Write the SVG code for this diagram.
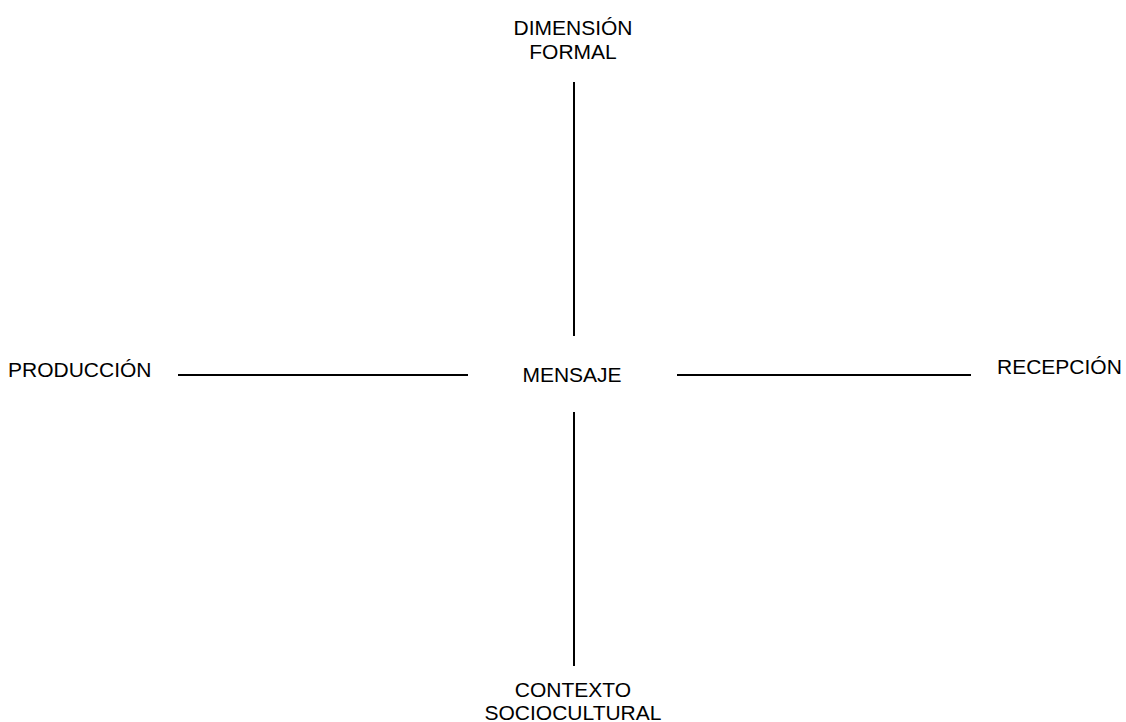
<svg xmlns="http://www.w3.org/2000/svg" width="1126" height="722" viewBox="0 0 1126 722">
<style>
text{font-family:"Liberation Sans",Arial,sans-serif;font-size:21px;fill:#000}
.c{text-anchor:middle}
.ln{stroke:#000;stroke-width:2;fill:none}
</style>
<rect width="1126" height="722" fill="#fff"/>
<g id="connectors">
<line class="ln" x1="574" y1="82" x2="574" y2="336"/>
<line class="ln" x1="574" y1="412" x2="574" y2="666"/>
<line class="ln" x1="178" y1="375" x2="468" y2="375"/>
<line class="ln" x1="677" y1="375" x2="971" y2="375"/>
</g>
<g id="formal"><text class="c" x="573" y="35">DIMENSIÓN</text><text class="c" x="573" y="59">FORMAL</text></g>
<g id="produccion"><text x="8" y="377">PRODUCCIÓN</text></g>
<g id="mensaje"><text class="c" x="572" y="382">MENSAJE</text></g>
<g id="recepcion"><text x="997" y="374">RECEPCIÓN</text></g>
<g id="contexto"><text class="c" x="573" y="697">CONTEXTO</text><text class="c" x="573" y="720">SOCIOCULTURAL</text></g>
</svg>
